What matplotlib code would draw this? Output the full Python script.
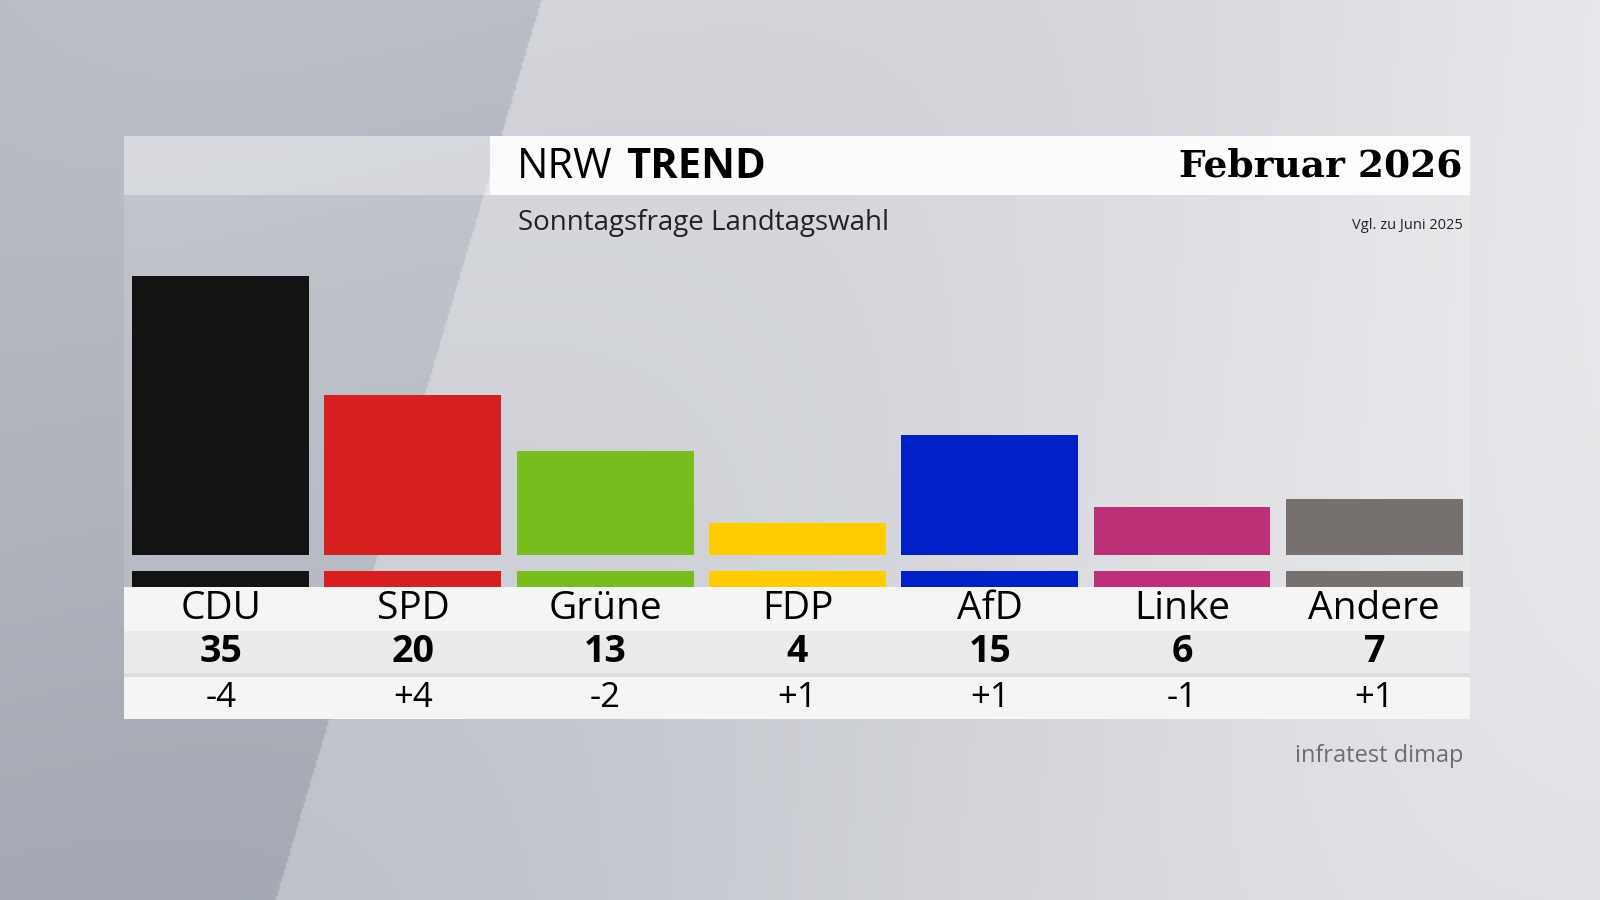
import numpy as np
import matplotlib.pyplot as plt
from matplotlib.patches import Rectangle

parties = ['CDU', 'SPD', 'Grüne', 'FDP', 'AfD', 'Linke', 'Andere']
values = [35, 20, 13, 4, 15, 6, 7]
changes = ['-4', '+4', '-2', '+1', '+1', '-1', '+1']
colors = ['#131313', '#d61f1f', '#78bd1e', '#ffcc00', '#0021c8', '#bb3076', '#76716f']

W, H = 1568, 882
fig = plt.figure(figsize=(16, 9), dpi=100)

# background in reference pixel coordinates
bg = fig.add_axes([0, 0, 1, 1])
bg.set_xlim(0, W)
bg.set_ylim(H, 0)
bg.axis('off')
xx, yy = np.meshgrid(np.linspace(0, 1, 800), np.linspace(0, 1, 450))
t = np.clip(0.55 + 0.35 * xx - 0.15 * yy + 0.1 * np.cos(xx * 5 + yy * 2), 0, 1)
left = xx * W < 530 - yy * 260
t = np.where(left, t - 0.35, t)
t = np.clip(t, 0, 1)
c0 = np.array([0.64, 0.66, 0.70])
c1 = np.array([0.93, 0.93, 0.94])
img = c0 + (c1 - c0) * t[..., None]
bg.imshow(img, extent=[0, W, H, 0], aspect='auto', zorder=0, interpolation='bilinear')

# panel
bg.add_patch(Rectangle((122, 191), 1319, 384, color='white', alpha=0.15, lw=0, zorder=1))
bg.add_patch(Rectangle((122, 133), 1319, 58, color='white', alpha=0.45, lw=0, zorder=1))
bg.add_patch(Rectangle((480, 133), 961, 58, color='white', alpha=0.9, lw=0, zorder=1))
bg.add_patch(Rectangle((122, 575), 1319, 43, color='#f5f5f6', lw=0, zorder=1))
bg.add_patch(Rectangle((122, 618), 1319, 42, color='#ebebed', lw=0, zorder=1))
bg.add_patch(Rectangle((122, 660), 1319, 3, color='#dcdcde', lw=0, zorder=1))
bg.add_patch(Rectangle((122, 663), 1319, 42, color='#f5f5f6', lw=0, zorder=1))

bg.text(507, 164, 'NRW', fontsize=30, va='center', ha='left', family='Open Sans', zorder=3)
bg.text(614, 164, 'TREND', fontsize=30, va='center', ha='left', family='Open Sans',
        fontweight='bold', zorder=3)
bg.text(1433, 163, 'Februar 2026', fontsize=27, va='center', ha='right',
        family='DejaVu Serif', fontweight='bold', zorder=3)
bg.text(508, 219, 'Sonntagsfrage Landtagswahl', fontsize=20, va='center', ha='left',
        family='Open Sans', color='#222222', zorder=3)
bg.text(1434, 221, 'Vgl. zu Juni 2025', fontsize=10.5, va='center', ha='right',
        family='Open Sans', color='#222222', zorder=3)
bg.text(1434, 741, 'infratest dimap', fontsize=17, va='center', ha='right',
        family='Open Sans', color='#6e6e6e', zorder=3)

# bars
ax = fig.add_axes([122 / W, 1 - 544 / H, 1319 / W, (544 - 270) / H])
ax.patch.set_alpha(0)
x = np.arange(len(parties))
ax.bar(x, values, width=0.92, color=colors)
ax.set_xlim(-0.5, len(parties) - 0.5)
ax.set_ylim(0, 35)
ax.axis('off')

# colour strips and table rows
strip = fig.add_axes([122 / W, 1 - 575 / H, 1319 / W, 15 / H])
strip.bar(x, [1] * len(x), width=0.92, color=colors)
strip.set_xlim(-0.5, len(parties) - 0.5)
strip.set_ylim(0, 1)
strip.axis('off')

tab = fig.add_axes([122 / W, 1 - 705 / H, 1319 / W, 130 / H])
tab.patch.set_alpha(0)
tab.set_xlim(-0.5, len(parties) - 0.5)
tab.set_ylim(705, 575)
tab.axis('off')
for i in x:
    tab.text(i, 597, parties[i], fontsize=28, ha='center', va='center', family='Open Sans')
    tab.text(i, 639, str(values[i]), fontsize=27, ha='center', va='center',
             family='Open Sans', fontweight='bold')
    tab.text(i, 684, changes[i], fontsize=25, ha='center', va='center', family='Open Sans')

fig.savefig('out.png', dpi=100)
